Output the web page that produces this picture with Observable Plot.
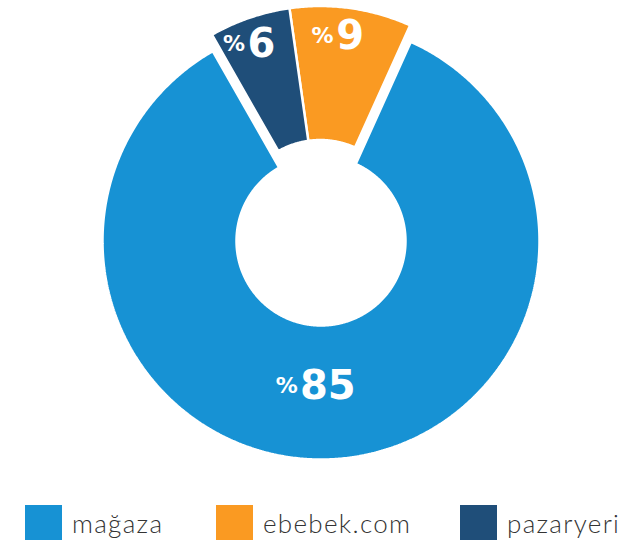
<!DOCTYPE html>
<html>
<head>
<meta charset="utf-8">
<script src="https://cdn.jsdelivr.net/npm/d3@7"></script>
<script src="https://cdn.jsdelivr.net/npm/@observablehq/plot@0.6"></script>
<style>
  body { margin: 0; background: #fff; }
  #chart { width: 622px; height: 490px; }
  #legend { position: relative; width: 622px; height: 57px; font-family: "Lato", sans-serif; }
  .item { position: absolute; top: 0; display: flex; align-items: flex-start; }
  .sw { width: 37px; height: 35px; margin-top: 15px; margin-right: 10px; }
  .lab { font-size: 26px; font-weight: 300; color: #333; letter-spacing: 1.3px; line-height: 26px; margin-top: 20px; white-space: nowrap; }
</style>
</head>
<body>
<div id="chart"></div>
<div id="legend"></div>
<script>
// ---- data ----
const categories = ["mağaza", "ebebek.com", "pazaryeri"];
const shares = [85, 9, 6];
const colors = ["#1792d4", "#fa9a22", "#1f4e79"];
const prefix = "%";

// ---- layout ----
const W = 622, H = 490;
const cx = 320.5, cy = 240.5, R = 218.5, r0 = 84.5, explode = 16.5;
const legendLeft = [25, 216, 460];
const rad = d => d * Math.PI / 180;

const data = categories.map((c, i) => ({cat: c, share: shares[i]}));
const arcs = d3.pie().sort(null).value(d => d.share)
  .startAngle(rad(330.3)).endAngle(rad(-29.7))(data);

const minor = arcs.filter(a => a.data.share < 50);
const dir = (d3.max(minor, a => a.startAngle) + d3.min(minor, a => a.endAngle)) / 2;

const pts = [];
const labels = [];
for (const a of arcs) {
  const off = a.data.share < 50 ? explode : 0;
  const ox = off * Math.sin(dir), oy = -off * Math.cos(dir);
  const n = Math.max(2, Math.ceil(Math.abs(a.endAngle - a.startAngle) / 0.008));
  for (let i = 0; i <= n; i++) {
    const t = a.startAngle + (a.endAngle - a.startAngle) * i / n;
    pts.push({cat: a.data.cat, x: cx + ox + R * Math.sin(t), y: cy + oy - R * Math.cos(t)});
  }
  for (let i = n; i >= 0; i--) {
    const t = a.startAngle + (a.endAngle - a.startAngle) * i / n;
    pts.push({cat: a.data.cat, x: cx + ox + r0 * Math.sin(t), y: cy + oy - r0 * Math.cos(t)});
  }
  const mid = (a.startAngle + a.endAngle) / 2;
  const lr = a.data.share >= 50 ? (R + r0) / 2 - 6 : R - 28;
  const x = cx + ox + lr * Math.sin(mid) + (a.data.share < 50 ? 3 : 0), y = cy + oy - lr * Math.cos(mid);
  const num = String(a.data.share);
  labels.push({x, y, num, px: x - num.length * 13.5 - 3});
}

const chart = Plot.plot({
  width: W, height: H, margin: 0,
  x: {domain: [0, W], range: [0, W], axis: null},
  y: {domain: [0, H], range: [0, H], axis: null},
  color: {domain: categories, range: colors},
  marks: [
    Plot.line(pts, {x: "x", y: "y", z: "cat", fill: "cat", stroke: "white", strokeWidth: 2.5, strokeLinejoin: "miter", curve: "linear-closed"}),
    Plot.text(labels, {x: "x", y: "y", text: "num", fill: "white", fontSize: 40, fontWeight: 700, fontFamily: "DejaVu Sans", textAnchor: "middle"}),
    Plot.text(labels, {x: "px", y: "y", text: () => prefix, fill: "white", fontSize: 22, fontWeight: 700, fontFamily: "DejaVu Sans", textAnchor: "end"})
  ]
});
document.getElementById("chart").appendChild(chart);

const legend = document.getElementById("legend");
categories.forEach((c, i) => {
  const it = document.createElement("div");
  it.className = "item";
  it.style.left = legendLeft[i] + "px";
  const sw = document.createElement("div");
  sw.className = "sw";
  sw.style.background = colors[i];
  const lb = document.createElement("div");
  lb.className = "lab";
  lb.textContent = c;
  it.appendChild(sw); it.appendChild(lb);
  legend.appendChild(it);
});
</script>
</body>
</html>
